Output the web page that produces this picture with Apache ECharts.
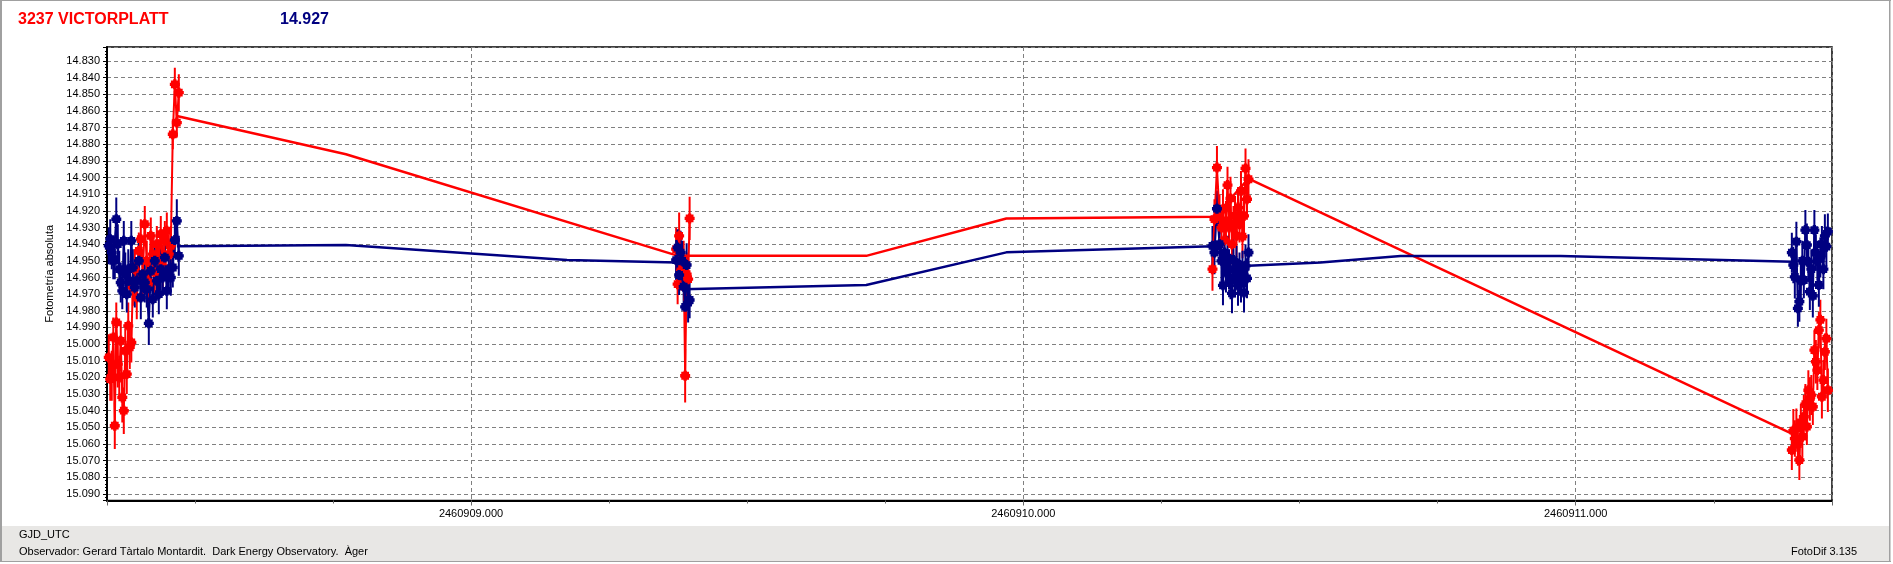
<!DOCTYPE html>
<html><head><meta charset="utf-8">
<script src="https://cdn.jsdelivr.net/npm/echarts@6/dist/echarts.min.js"></script>
<style>html,body{margin:0;padding:0;background:#fff}#c{width:1893px;height:564px}</style>
</head><body><div id="c"></div>
<script>
// ---- Data (GJD_UTC, magnitudes, errors) ----
const jd1 = [2460908.3442,2460908.3469,2460908.3496,2460908.3524,2460908.3551,2460908.3578,2460908.3605,2460908.3632,2460908.3659,2460908.3687,2460908.3714,2460908.3741,2460908.3768,2460908.3795,2460908.3822,2460908.3850,2460908.3877,2460908.3913,2460908.3949,2460908.3986,2460908.4022,2460908.4058,2460908.4094,2460908.4130,2460908.4167,2460908.4203,2460908.4239,2460908.4275,2460908.4312,2460908.4348,2460908.4384,2460908.4420,2460908.4457,2460908.4493,2460908.4529,2460908.4565,2460908.4601,2460908.4638,2460908.4674,2460908.4710];
const red1 = [15.008,15.021,15.019,14.996,15.049,14.987,15.012,15.020,14.998,15.032,15.040,15.004,15.018,14.989,15.002,14.999,14.966,14.955,14.972,14.944,14.937,14.958,14.928,14.950,14.963,14.935,14.946,14.957,14.940,14.949,14.934,14.953,14.938,14.932,14.946,14.941,14.874,14.844,14.867,14.849];
const redErr1 = [0.014,0.013,0.015,0.012,0.014,0.012,0.014,0.013,0.012,0.015,0.014,0.013,0.012,0.014,0.013,0.012,0.011,0.012,0.013,0.011,0.012,0.013,0.011,0.012,0.013,0.011,0.012,0.013,0.011,0.012,0.011,0.013,0.012,0.011,0.012,0.012,0.009,0.010,0.009,0.011];
const navy1 = [14.941,14.937,14.945,14.950,14.949,14.925,14.940,14.955,14.963,14.968,14.938,14.958,14.970,14.955,14.962,14.938,14.954,14.966,14.962,14.950,14.972,14.958,14.963,14.967,14.9875,14.956,14.973,14.950,14.962,14.970,14.955,14.960,14.948,14.968,14.955,14.960,14.954,14.9375,14.926,14.947];
const navyErr1 = [0.011,0.012,0.010,0.011,0.012,0.013,0.012,0.011,0.012,0.011,0.012,0.013,0.011,0.012,0.010,0.012,0.011,0.012,0.011,0.012,0.013,0.011,0.012,0.011,0.013,0.012,0.011,0.012,0.011,0.012,0.013,0.011,0.012,0.011,0.012,0.011,0.012,0.011,0.013,0.012];

const jd2 = [2460909.3714,2460909.3741,2460909.3768,2460909.3795,2460909.3822,2460909.3850,2460909.3877,2460909.3904,2460909.3931,2460909.3958];
const red2 = [14.943,14.964,14.935,14.948,14.955,14.950,15.019,14.958,14.961,14.9245];
const redErr2 = [0.013,0.012,0.014,0.012,0.013,0.012,0.016,0.013,0.012,0.013];
const navy2 = [14.9495,14.942,14.9585,14.945,14.950,14.9655,14.9776,14.9525,14.975,14.9735];
const navyErr2 = [0.012,0.011,0.012,0.013,0.012,0.011,0.012,0.013,0.012,0.011];

const jd3 = [2460910.3424,2460910.3460,2460910.3505,2460910.3551,2460910.3587,2460910.3614,2460910.3641,2460910.3668,2460910.3696,2460910.3723,2460910.3750,2460910.3777,2460910.3804,2460910.3832,2460910.3859,2460910.3886,2460910.3913,2460910.3940,2460910.3967,2460910.3995,2460910.4022,2460910.4049,2460910.4076];
const red3 = [14.955,14.925,14.894,14.922,14.930,14.919,14.9375,14.926,14.9045,14.930,14.9125,14.940,14.928,14.923,14.935,14.918,14.928,14.908,14.9355,14.923,14.8945,14.913,14.901];
const redErr3 = [0.013,0.012,0.013,0.012,0.011,0.012,0.013,0.012,0.011,0.012,0.013,0.012,0.011,0.012,0.013,0.012,0.011,0.012,0.013,0.012,0.012,0.011,0.012];
const navy3 = [14.941,14.945,14.9187,14.940,14.950,14.9647,14.945,14.957,14.948,14.955,14.962,14.9695,14.9495,14.960,14.952,14.965,14.958,14.963,14.955,14.969,14.953,14.9605,14.945];
const navyErr3 = [0.012,0.013,0.011,0.012,0.013,0.012,0.011,0.012,0.013,0.012,0.011,0.012,0.013,0.012,0.011,0.012,0.013,0.012,0.011,0.012,0.013,0.012,0.011];

const jd4 = [2460911.3913,2460911.3940,2460911.3967,2460911.3995,2460911.4022,2460911.4049,2460911.4076,2460911.4103,2460911.4130,2460911.4158,2460911.4185,2460911.4212,2460911.4239,2460911.4266,2460911.4293,2460911.4321,2460911.4348,2460911.4375,2460911.4402,2460911.4429,2460911.4457,2460911.4484,2460911.4511,2460911.4538,2460911.4565];
const red4 = [15.0636,15.052,15.0567,15.0506,15.060,15.0696,15.047,15.0556,15.0436,15.036,15.0496,15.0277,15.033,15.0306,15.0376,15.0036,15.0106,15.0156,14.9916,14.9854,15.0316,15.0216,15.0046,14.9967,15.0277];
const redErr4 = [0.012,0.013,0.011,0.012,0.013,0.012,0.011,0.012,0.013,0.012,0.011,0.012,0.013,0.012,0.011,0.012,0.013,0.012,0.011,0.012,0.013,0.012,0.011,0.012,0.013];
const navy4 = [14.9451,14.9525,14.9596,14.9385,14.9785,14.9745,14.962,14.950,14.9615,14.9315,14.9405,14.9505,14.9685,14.955,14.971,14.9315,14.945,14.950,14.9645,14.948,14.940,14.955,14.935,14.9415,14.9325];
const navyErr4 = [0.012,0.011,0.013,0.012,0.011,0.012,0.013,0.012,0.011,0.012,0.013,0.012,0.011,0.012,0.013,0.012,0.011,0.012,0.013,0.012,0.011,0.012,0.013,0.012,0.011];

const redMeanJD = [2460908.4674,2460908.7736,2460909.3750,2460909.7156,2460909.9692,2460910.3460,2460910.4076,2460911.3931];
const redMean = [14.863,14.886,14.947,14.947,14.9246,14.9235,14.9006,15.054];
const navyMeanJD = [2460908.4674,2460908.7736,2460909.1739,2460909.3714,2460909.3841,2460909.7156,2460909.9692,2460910.3442,2460910.4076,2460910.5380,2460910.6830,2460910.9728,2460911.3931];
const navyMean = [14.9413,14.9405,14.9495,14.951,14.967,14.9645,14.9449,14.9412,14.953,14.951,14.9471,14.9471,14.9505];

const titleName = '3237 VICTORPLATT';
const titleValue = '14.927';
const xName = 'GJD_UTC';
const yName = 'Fotometría absoluta';
const observer = 'Observador: Gerard Tàrtalo Montardit.  Dark Energy Observatory.  Àger';
const software = 'FotoDif 3.135';

const X_MIN = 2460908.3410, X_MAX = 2460911.4640;
const Y_MIN = 14.82159, Y_MAX = 15.09390;

const RED = '#ff0000', NAVY = '#000080';
const FONT = '"Liberation Sans", Arial, sans-serif';
const PIX = 'path://M3 0H6V1H8V3H9V6H8V8H6V9H3V8H1V6H0V3H1V1H3Z';

function errSeries(jd, mag, err, color) {
  return {
    type: 'custom', silent: true, clip: true, z: 2,
    data: jd.map((x, i) => [x, mag[i], err[i]]),
    encode: { x: 0, y: 1 },
    renderItem: function (params, api) {
      const x = api.value(0), y = api.value(1), e = api.value(2);
      const p1 = api.coord([x, y - e]), p2 = api.coord([x, y + e]);
      return { type: 'line', shape: { x1: p1[0], y1: p1[1], x2: p2[0], y2: p2[1] },
        style: { stroke: color, lineWidth: 2 } };
    }
  };
}
function ptSeries(jd, mag, color) {
  return {
    type: 'line', silent: true, z: 3,
    data: jd.map((x, i) => [x, mag[i]]),
    symbol: PIX, symbolSize: 10, showSymbol: true, showAllSymbol: true,
    lineStyle: { color: color, width: 2 }, itemStyle: { color: color }
  };
}
function meanSeries(jd, mag, color) {
  return {
    type: 'line', silent: true, z: 3, symbol: 'none',
    data: jd.map((x, i) => [x, mag[i]]),
    lineStyle: { color: color, width: 2.5 }
  };
}

const clusters = [
  [jd1, red1, redErr1, navy1, navyErr1],
  [jd2, red2, redErr2, navy2, navyErr2],
  [jd3, red3, redErr3, navy3, navyErr3],
  [jd4, red4, redErr4, navy4, navyErr4]
];
const series = [];
clusters.forEach(c => { series.push(errSeries(c[0], c[1], c[2], RED)); });
clusters.forEach(c => { series.push(ptSeries(c[0], c[1], RED)); });
series.push(meanSeries(redMeanJD, redMean, RED));
clusters.forEach(c => { series.push(errSeries(c[0], c[3], c[4], NAVY)); });
clusters.forEach(c => { series.push(ptSeries(c[0], c[3], NAVY)); });
series.push(meanSeries(navyMeanJD, navyMean, NAVY));

const chart = echarts.init(document.getElementById('c'), null, { renderer: 'canvas' });
chart.setOption({
  animation: false,
  backgroundColor: '#ffffff',
  textStyle: { fontFamily: FONT },
  grid: { left: 107, top: 47, width: 1725, height: 453.5, show: true, borderColor: '#000', borderWidth: 1.5, backgroundColor: 'transparent' },
  xAxis: {
    type: 'value', min: X_MIN, max: X_MAX, splitNumber: 3,
    axisLine: { show: true, onZero: false, lineStyle: { color: '#000', width: 2 } },
    axisTick: { show: true, length: 5, lineStyle: { color: '#666', width: 1 } },
    minorTick: { show: true, splitNumber: 4, length: 3, lineStyle: { color: '#666', width: 1 } },
    axisLabel: { formatter: v => v.toFixed(3), showMinLabel: false, showMaxLabel: false, fontSize: 11, color: '#000', fontFamily: FONT, margin: 8 },
    splitLine: { show: true, lineStyle: { color: '#808080', type: [4, 3], width: 1 } }
  },
  yAxis: {
    type: 'value', inverse: true, min: Y_MIN, max: Y_MAX, splitNumber: 25,
    name: yName, nameLocation: 'middle', nameGap: 44,
    nameTextStyle: { fontSize: 11, color: '#000', fontFamily: FONT },
    axisLine: { show: true, onZero: false, lineStyle: { color: '#000', width: 2 } },
    axisTick: { show: true, length: 4, lineStyle: { color: '#000', width: 1 } },
    minorTick: { show: true, splitNumber: 5, length: 2, lineStyle: { color: '#000', width: 1 } },
    axisLabel: { formatter: v => v.toFixed(3), showMinLabel: false, showMaxLabel: false, fontSize: 11, color: '#000', fontFamily: FONT, margin: 7 },
    splitLine: { show: true, lineStyle: { color: '#808080', type: [4, 3], width: 1 } }
  },
  graphic: [
    { type: 'rect', z: -10, shape: { x: 2, y: 526, width: 1887, height: 35 }, style: { fill: '#e8e7e5' } },
    { type: 'rect', z: -5, shape: { x: 0, y: 0, width: 1891, height: 1 }, style: { fill: '#a0a0a0' } },
    { type: 'rect', z: -5, shape: { x: 0, y: 0, width: 2, height: 562 }, style: { fill: '#a0a0a0' } },
    { type: 'rect', z: -5, shape: { x: 1889, y: 0, width: 1.5, height: 562 }, style: { fill: '#a0a0a0' } },
    { type: 'rect', z: -5, shape: { x: 0, y: 561, width: 1891, height: 1 }, style: { fill: '#a0a0a0' } },
    { type: 'text', x: 18, y: 19.5, style: { text: titleName, font: 'bold 16px ' + FONT, fill: RED, align: 'left', verticalAlign: 'middle' } },
    { type: 'text', x: 280, y: 19.5, style: { text: titleValue, font: 'bold 16px ' + FONT, fill: NAVY, align: 'left', verticalAlign: 'middle' } },
    { type: 'text', x: 19, y: 535, style: { text: xName, font: '11px ' + FONT, fill: '#000', align: 'left', verticalAlign: 'middle' } },
    { type: 'text', x: 19, y: 552, style: { text: observer, font: '11px ' + FONT, fill: '#000', align: 'left', verticalAlign: 'middle' } },
    { type: 'text', x: 1857, y: 552, style: { text: software, font: '11px ' + FONT, fill: '#000', align: 'right', verticalAlign: 'middle' } }
  ],
  series: series
});
</script>
</body></html>
